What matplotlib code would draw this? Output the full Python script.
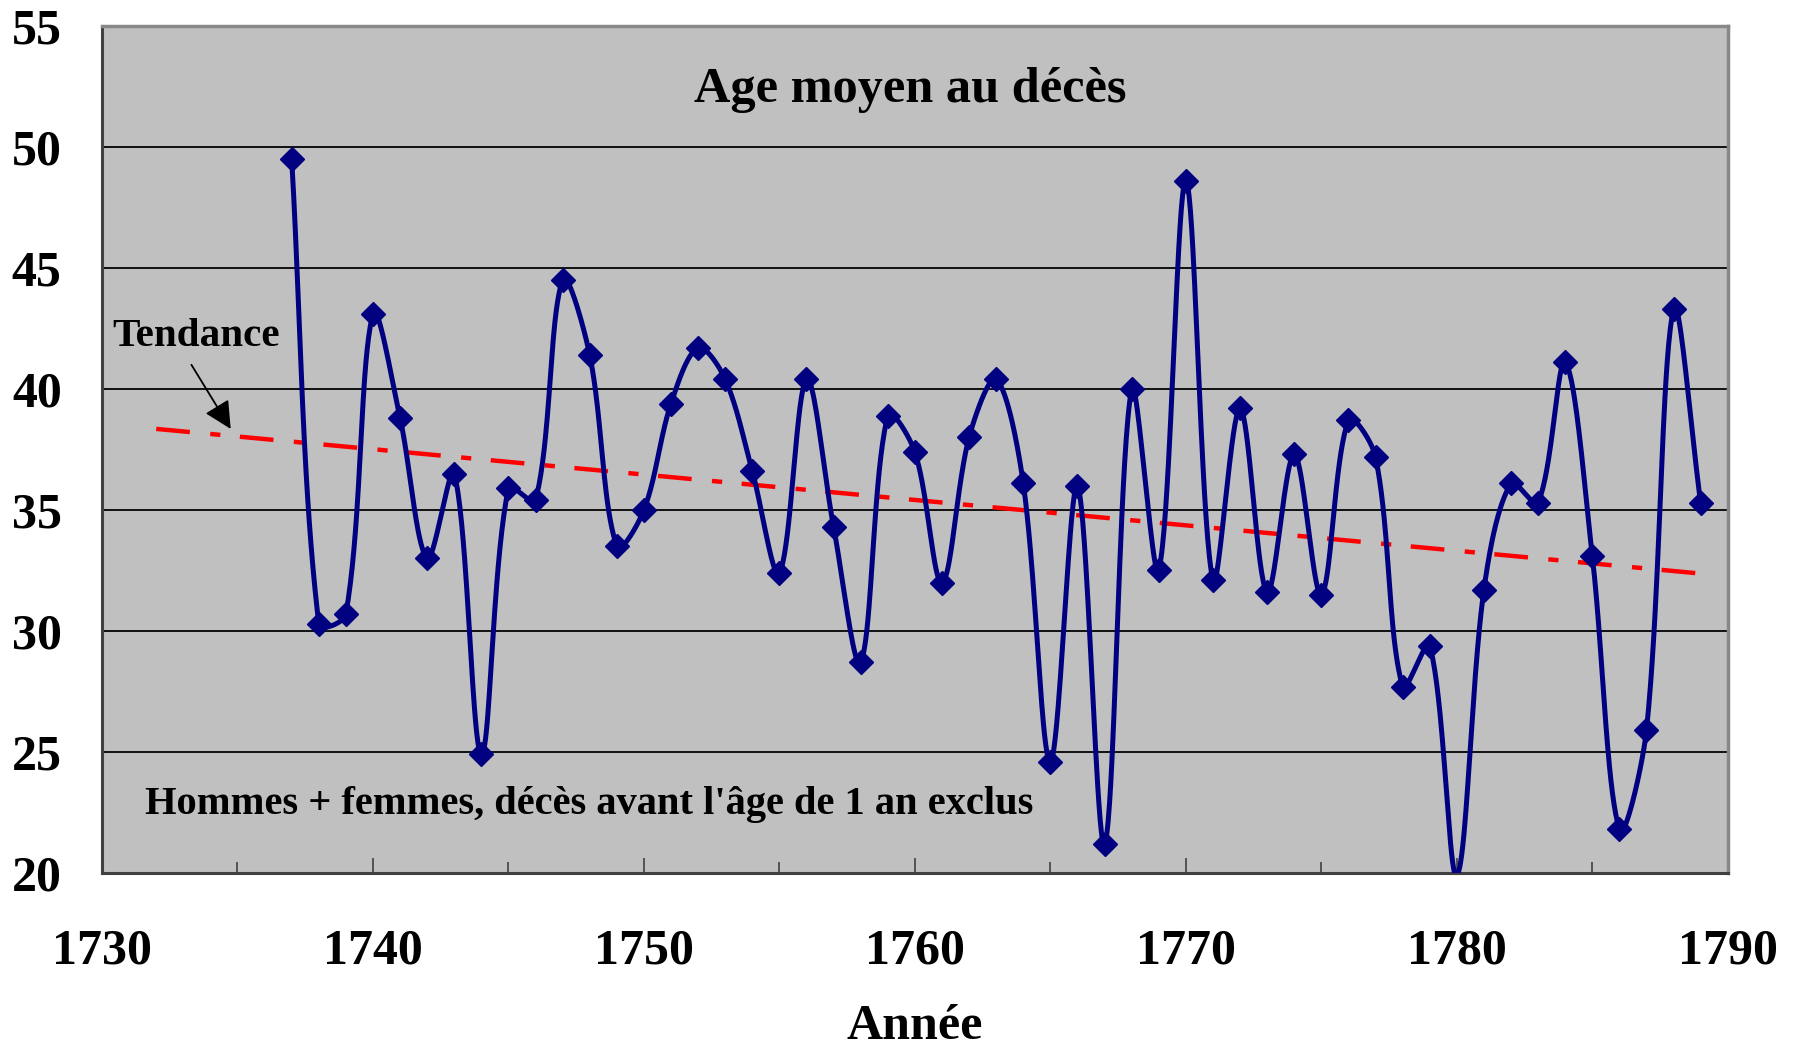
import numpy as np
import matplotlib
matplotlib.use('Agg')
import matplotlib.pyplot as plt
from matplotlib.ticker import MultipleLocator

# age moyen au deces, 1737-1789

years = list(range(1737, 1790))
age = [49.5, 30.3, 30.7, 43.1, 38.8, 33.0, 36.5, 24.9, 35.9, 35.4,
       44.5, 41.4, 33.5, 35.0, 39.4, 41.7, 40.4, 36.6, 32.4, 40.4,
       34.3, 28.7, 38.9, 37.4, 32.0, 38.0, 40.4, 36.1, 24.6, 36.0,
       21.2, 40.0, 32.5, 48.6, 32.1, 39.2, 31.6, 37.3, 31.5, 38.7,
       37.2, 27.7, 29.4, 19.9, 31.7, 36.1, 35.3, 41.1, 33.1, 21.8,
       25.9, 43.3, 35.3]
trend_start = 1732   # trend extended 5 years backward

x = np.array(years, dtype=float)
y = np.array(age)

coef = np.polyfit(x, y, 1)
tx = np.array([trend_start, years[-1]])
ty = np.polyval(coef, tx)

plt.rcParams['font.family'] = 'Liberation Serif'
plt.rcParams['font.weight'] = 'bold'

fig = plt.figure(figsize=(17.96, 10.49), dpi=100)
ax = fig.add_axes([0.0568, 0.1678, 0.9052, 0.8074])
ax.set_facecolor('#C0C0C0')
ax.set_xlim(1730, 1790)
ax.set_ylim(20, 55)

# smoothed line like excel: bezier, control points weighted by segment length (screen space)
P = ax.transData.transform(np.column_stack([x, y]))
n = len(P)
d = np.hypot(*np.diff(P, axis=0).T)          # segment lengths
t = np.linspace(0, 1, 40)[:, None]
pts = []
for i in range(n - 1):
    p0 = P[i - 1] if i > 0 else P[i]
    d0 = d[i - 1] if i > 0 else 0.0
    p3 = P[i + 2] if i + 2 < n else P[i + 1]
    d2 = d[i + 1] if i + 2 < n else 0.0
    b1 = P[i] + (P[i + 1] - p0) * d[i] / (d0 + d[i]) / 3
    b2 = P[i + 1] - (p3 - P[i]) * d[i] / (d[i] + d2) / 3
    seg = ((1 - t)**3 * P[i] + 3*(1 - t)**2 * t * b1
           + 3*(1 - t) * t**2 * b2 + t**3 * P[i + 1])
    pts.append(seg)
curve = ax.transData.inverted().transform(np.vstack(pts))

ax.yaxis.set_major_locator(MultipleLocator(5))
ax.xaxis.set_major_locator(MultipleLocator(10))
ax.xaxis.set_minor_locator(MultipleLocator(5))
ax.grid(axis='y', color='#101010', linewidth=1.4)
ax.set_axisbelow(True)

ax.plot(tx, ty, color='#FF0000', linewidth=3.2, linestyle=(0, (7.6, 4.6, 2.3, 4.4)),
        dash_capstyle='butt', zorder=3)
ax.plot(curve[:, 0], curve[:, 1], color='#000080', linewidth=3.6, zorder=4,
        solid_joinstyle='round')
inside = y >= 20
ax.plot(x[inside], y[inside], linestyle='none', marker='D', markersize=12,
        color='#000080', zorder=5)

for s in ['top', 'right']:
    ax.spines[s].set_color('#888888')
    ax.spines[s].set_linewidth(2.5)
for s in ['left', 'bottom']:
    ax.spines[s].set_color('#404040')
    ax.spines[s].set_linewidth(2.2)

ax.tick_params(axis='x', which='major', direction='in', length=11, width=1.2,
               color='#404040', pad=40, labelsize=36)
ax.tick_params(axis='x', which='minor', direction='in', length=8, width=1.2,
               color='#404040')
ax.tick_params(axis='y', length=0, pad=29, labelsize=36)

ax.text(0.497, 0.925, 'Age moyen au décès', transform=ax.transAxes,
        ha='center', va='center', fontsize=36.3, fontweight='bold')
ax.text(1731.6, 22.85, "Hommes + femmes, décès avant l'âge de 1 an exclus",
        ha='left', va='center', fontsize=29.2, fontweight='bold')
ax.annotate('', xy=(1734.75, 38.35), xytext=(1733.3, 41.0),
            arrowprops=dict(arrowstyle='-|>', color='black', lw=1.3,
                            mutation_scale=42, shrinkA=0, shrinkB=0))
ax.text(1730.37, 42.15, 'Tendance', ha='left', va='center', fontsize=29.6,
        fontweight='bold')

ax.set_xlabel('Année', fontsize=36, fontweight='bold', labelpad=21)

plt.savefig('out.png', dpi=100)
plt.close()
